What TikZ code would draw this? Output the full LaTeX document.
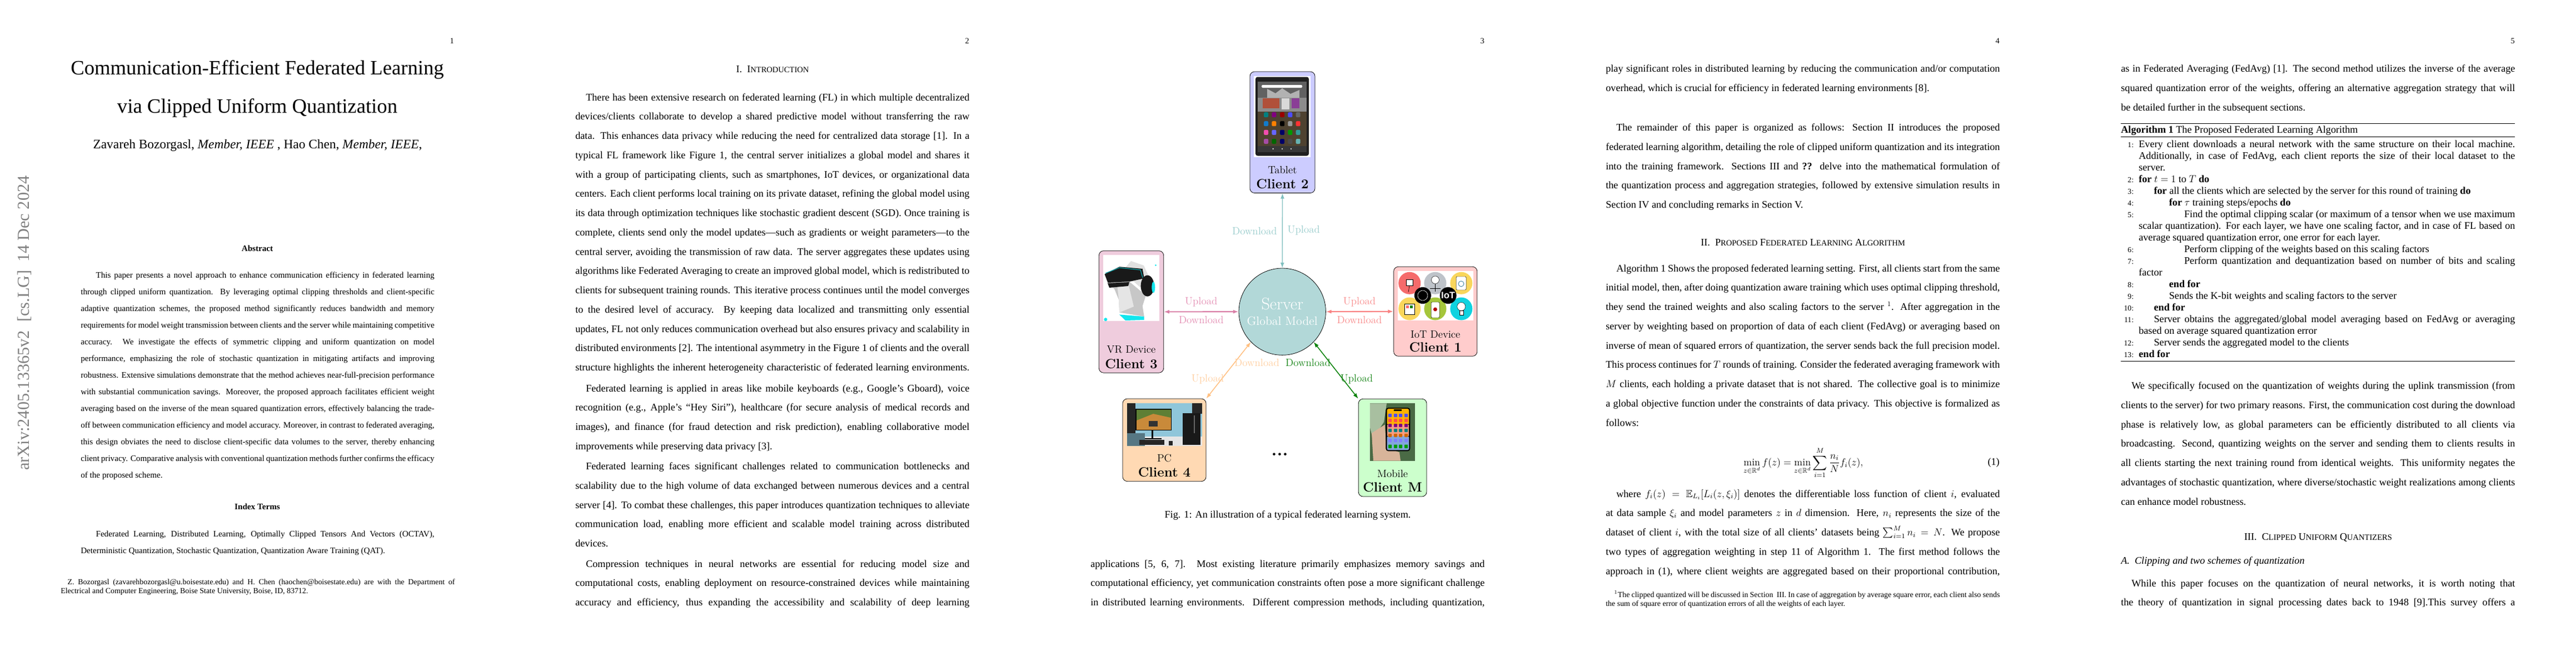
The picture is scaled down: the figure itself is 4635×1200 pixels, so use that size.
\documentclass[tikz,border=0pt,12pt]{standalone}
\usepackage{amsmath,amssymb}
\usepackage{fontspec}
\usetikzlibrary{arrows.meta,calc}
\newfontfamily\tm[Ligatures=TeX]{Liberation Serif}
\newfontfamily\hv{Liberation Sans}
\newlength\linew
\newcommand\JL[1]{\hbox to \linew{#1}}
\newcommand\LL[1]{\hbox{#1}}
\newcommand\SC[1]{{\fontsize{9.6}{12}\selectfont #1}}
\newcommand\AL[2]{\hbox to 468pt{\hbox to 15pt{\hss\fontsize{9}{11}\selectfont #1}\hskip 6.1pt #2}}
\newcommand\ind[1]{\hskip #1pt}
\newcommand\bodyfont{\tm\fontsize{12}{22.94}\selectfont\setlength\linew{468pt}}
\newcommand\absfont{\tm\fontsize{10}{19.8}\selectfont\setlength\linew{420pt}}
\newcommand\fnfont{\tm\fontsize{9.2}{10.6}\selectfont\setlength\linew{468pt}}
\definecolor{cTab}{HTML}{CCCCFF}
\definecolor{cVR}{HTML}{EFCCDD}
\definecolor{cIoT}{HTML}{FFCCCC}
\definecolor{cPC}{HTML}{FFD9B3}
\definecolor{cMob}{HTML}{CCFFCC}
\definecolor{cSrv}{HTML}{B2D8D8}
\definecolor{aTeal}{HTML}{7FBFBF}
\definecolor{aPink}{HTML}{D97FA6}
\definecolor{aRed}{HTML}{F98080}
\definecolor{aOr}{HTML}{FFBF80}
\definecolor{aGr}{HTML}{008000}
\definecolor{lTeal}{HTML}{99CCCC}
\definecolor{lPink}{HTML}{E48FB4}
\definecolor{lRed}{HTML}{F98C8C}
\definecolor{lOr}{HTML}{FFCFA0}
\definecolor{lGr}{HTML}{1A861A}
\definecolor{aqua}{HTML}{12E6EE}
\tikzset{
  x=0.66pt,y=-0.66pt,
  body/.style={anchor=base west,inner sep=0pt,font=\bodyfont},
  absbody/.style={anchor=base west,inner sep=0pt,font=\absfont},
  fnbody/.style={anchor=base west,inner sep=0pt,font=\fnfont},
  pagenum/.style={anchor=base east,inner sep=0pt,font=\tm\fontsize{9.5}{11}\selectfont},
  heading/.style={anchor=base,inner sep=0pt,font=\tm\fontsize{12}{14}\selectfont},
  devbox/.style={draw=black,line width=0.5pt,rounded corners=5.5pt,inner sep=0pt},
  devname/.style={inner sep=0pt,font=\fontsize{12.5}{14}\selectfont},
  cname/.style={anchor=base,inner sep=0pt,font=\fontsize{15.9}{18}\selectfont\bfseries},
  lbl/.style={inner sep=0pt,font=\fontsize{12.5}{14}\selectfont},
  dbl/.style={{Latex[length=6.5pt,width=4.6pt]}-{Latex[length=6.5pt,width=4.6pt]}},
}
\begin{document}
\begin{tikzpicture}
\useasboundingbox (0,0) rectangle (4635,1200);
\fill[white] (0,0) rectangle (4635,1200);
%% ---------- page 1
\node[pagenum] (pn1) at (817,78) {1};
\node[inner sep=0pt,anchor=base,font=\tm\fontsize{24.2}{28}\selectfont] (title1) at (463,134) {Communication-Efficient Federated Learning};
\node[inner sep=0pt,anchor=base,font=\tm\fontsize{24.2}{28}\selectfont] (title2) at (463,203.6) {via Clipped Uniform Quantization};
\node[inner sep=0pt,anchor=base,font=\tm\fontsize{15.4}{18}\selectfont] (auth) at (463.5,267) {Zavareh Bozorgasl, \emph{Member, IEEE} , Hao Chen, \emph{Member, IEEE},};
\node[inner sep=0pt,rotate=90,anchor=base west,text=black!50,font=\tm\fontsize{20}{24}\selectfont] (stamp) at (52,847) {arXiv:2405.13365v2\ \ [cs.LG]\ \ 14 Dec 2024};
\node[inner sep=0pt,anchor=base,font=\tm\fontsize{10}{12}\selectfont\bfseries] (abshead) at (463,452) {Abstract};
\node[absbody] (abs) at (145,500) {\vtop{
\JL{\ind{18}This paper presents a novel approach to enhance communication efficiency in federated learning}
\JL{through clipped uniform quantization. By leveraging optimal clipping thresholds and client-specific}
\JL{adaptive quantization schemes, the proposed method significantly reduces bandwidth and memory}
\JL{requirements for model weight transmission between clients and the server while maintaining competitive}
\JL{accuracy. We investigate the effects of symmetric clipping and uniform quantization on model}
\JL{performance, emphasizing the role of stochastic quantization in mitigating artifacts and improving}
\JL{robustness. Extensive simulations demonstrate that the method achieves near-full-precision performance}
\JL{with substantial communication savings. Moreover, the proposed approach facilitates efficient weight}
\JL{averaging based on the inverse of the mean squared quantization errors, effectively balancing the trade-}
\JL{off between communication efficiency and model accuracy. Moreover, in contrast to federated averaging,}
\JL{this design obviates the need to disclose client-specific data volumes to the server, thereby enhancing}
\JL{client privacy. Comparative analysis with conventional quantization methods further confirms the efficacy}
\LL{of the proposed scheme.}}};
\node[inner sep=0pt,anchor=base,font=\tm\fontsize{10}{12}\selectfont\bfseries] (idxhead) at (463,917.6) {Index Terms};
\node[absbody] (idx) at (145,966) {\vtop{
\JL{\ind{18}Federated Learning, Distributed Learning, Optimally Clipped Tensors And Vectors (OCTAV),}
\LL{Deterministic Quantization, Stochastic Quantization, Quantization Aware Training (QAT).}}};
\node[fnbody] (fn1) at (109,1052) {\vtop{
\JL{\ind{8.2}Z. Bozorgasl (zavarehbozorgasl@u.boisestate.edu) and H. Chen (haochen@boisestate.edu) are with the Department of}
\LL{Electrical and Computer Engineering, Boise State University, Boise, ID, 83712.}}};
%% ---------- page 2
\node[pagenum] (pn2) at (1744,78) {2};
\node[heading] (sec1) at (1390,130) {I.\ \ I\SC{NTRODUCTION}};
\node[body] (p2a) at (1035,181) {\vtop{
\JL{\ind{12.5}There has been extensive research on federated learning (FL) in which multiple decentralized}
\JL{devices/clients collaborate to develop a shared predictive model without transferring the raw}
\JL{data. This enhances data privacy while reducing the need for centralized data storage [1]. In a}
\JL{typical FL framework like Figure 1, the central server initializes a global model and shares it}
\JL{with a group of participating clients, such as smartphones, IoT devices, or organizational data}
\JL{centers. Each client performs local training on its private dataset, refining the global model using}
\JL{its data through optimization techniques like stochastic gradient descent (SGD). Once training is}
\JL{complete, clients send only the model updates---such as gradients or weight parameters---to the}
\JL{central server, avoiding the transmission of raw data. The server aggregates these updates using}
\JL{algorithms like Federated Averaging to create an improved global model, which is redistributed to}
\JL{clients for subsequent training rounds. This iterative process continues until the model converges}
\JL{to the desired level of accuracy. By keeping data localized and transmitting only essential}
\JL{updates, FL not only reduces communication overhead but also ensures privacy and scalability in}
\JL{distributed environments [2]. The intentional asymmetry in the Figure 1 of clients and the overall}
\JL{structure highlights the inherent heterogeneity characteristic of federated learning environments.}}};
\node[body] (p2b) at (1035,705) {\vtop{
\JL{\ind{12.5}Federated learning is applied in areas like mobile keyboards (e.g., Google’s Gboard), voice}
\JL{recognition (e.g., Apple’s “Hey Siri”), healthcare (for secure analysis of medical records and}
\JL{images), and finance (for fraud detection and risk prediction), enabling collaborative model}
\LL{improvements while preserving data privacy [3].}}};
\node[body] (p2c) at (1035,845.5) {\vtop{
\JL{\ind{12.5}Federated learning faces significant challenges related to communication bottlenecks and}
\JL{scalability due to the high volume of data exchanged between numerous devices and a central}
\JL{server [4]. To combat these challenges, this paper introduces quantization techniques to alleviate}
\JL{communication load, enabling more efficient and scalable model training across distributed}
\LL{devices.}}};
\node[body] (p2d) at (1035,1021) {\vtop{
\JL{\ind{12.5}Compression techniques in neural networks are essential for reducing model size and}
\JL{computational costs, enabling deployment on resource-constrained devices while maintaining}
\JL{accuracy and efficiency, thus expanding the accessibility and scalability of deep learning}}};
%% ---------- page 3 figure
\node[pagenum] (pn3) at (2671,78) {3};
\node[devbox,fill=cTab,minimum width=77.2pt,minimum height=144.2pt] (c2) at (2307.5,238.25) {};
\node[devbox,fill=cVR,minimum width=76.8pt,minimum height=144.9pt] (c3) at (2035.5,561.4) {};
\node[devbox,fill=cIoT,minimum width=99.1pt,minimum height=106.3pt] (c1) at (2582.75,560.8) {};
\node[devbox,fill=cPC,minimum width=99pt,minimum height=98.1pt] (c4) at (2095,792.35) {};
\node[devbox,fill=cMob,minimum width=81pt,minimum height=116pt] (cM) at (2505.6,806.15) {};
\node[circle,draw=black,line width=0.5pt,fill=cSrv,minimum size=103.2pt,inner sep=0pt] (srv) at (2307.2,561.2) {};
\node[inner sep=0pt,text=white,font=\fontsize{20}{24}\selectfont] (srvt) at (2307.2,547) {Server};
\node[inner sep=0pt,text=white,font=\fontsize{14.4}{17}\selectfont] (gm) at (2307.2,578) {Global Model};
%% tablet image
\fill[white] (2256.2,137) rectangle (2358,283);
\fill[black!88,rounded corners=2.5pt] (2259,138.5) rectangle (2355,280.5);
\fill[black!62] (2263,147) rectangle (2351,176);
\fill[black!45] (2263,176) rectangle (2351,201);
\fill[black!30] (2280,160) -- (2295,168) -- (2307,159) -- (2322,169) -- (2338,162) -- (2338,176) -- (2280,176) -- cycle;
\definecolor{bn}{HTML}{4E4230}
\fill[bn] (2263,201) rectangle (2351,263);
\fill[black!78] (2263,263) rectangle (2351,274);
\fill[white,rounded corners=1pt] (2270,153) rectangle (2343,158);
\definecolor{bk1}{HTML}{B0503A}\definecolor{bk3}{HTML}{8A3E96}
\fill[bk1] (2272,177) rectangle (2302,195);
\fill[white!85!black] (2306,177) rectangle (2320,197);
\fill[bk3] (2324,177) rectangle (2338,195);
\foreach \x/\y/\c in {
 2278/206.7/teal,2292.4/206.7/violet,2307.2/206.7/red!60!black,2321.4/206.7/blue!70,2335.7/206.7/black!60,
 2278/222.7/cyan!60!blue,2292.4/222.7/orange,2307.2/222.7/black,2321.4/222.7/black!40,2335.7/222.7/red!80,
 2278/238.4/magenta!70,2292.4/238.4/blue!60,2307.2/238.4/blue!40!black,2321.4/238.4/green!60!black,2335.7/238.4/teal!80,
 2278/254.5/violet!70,2292.4/254.5/green!40!black,2307.2/254.5/blue!40!black,2321.4/254.5/black!70,2335.7/254.5/teal!60}
 {\fill[fill=\c,rounded corners=1pt] (\x-4,\y-4.5) rectangle (\x+4,\y+4.5);}
\foreach \x in {2290.6,2307,2323} {\fill[white] (\x,268) circle (0.8pt);}
%% VR image
\fill[white] (1984.6,459) rectangle (2086,578);
\fill[black!22] (1993.4,509) -- (2032,507) -- (2061.7,532) -- (2055.7,551) -- (2058.7,570) -- (2014.2,562.6) -- (2013,539.6) -- (2005.3,520.7) -- cycle;
\fill[black!10] (2010,512) -- (2030,510) -- (2040,552) -- (2014.2,562.6) -- (2013,539.6) -- cycle;
\fill[black!12] (2005,505) -- (2035,470) -- (2058,478) -- (2068,500) -- (2060,525) -- (2040,507) -- cycle;
\fill[black!90] (1987.5,493.7) -- (2014.2,480.3) -- (2055.7,484) -- (2058.7,501.3) -- (2032,507) -- (1993.4,509) -- cycle;
\draw[aqua!70!black,line width=0.8pt] (1989,492) -- (2014.2,482) -- (2052,486) -- (2056,500);
\fill[black!90] (1993,510) -- (2032,508) -- (2030,515) -- (1996,518) -- cycle;
\fill[black!90] (2064.6,514.7) ellipse (12 and 19);
\fill[aqua] (2075.3,517.4) ellipse (3 and 10);
\fill[aqua] (2014,566.4) -- (2058.7,570) -- (2058.7,576) -- (2025,577) -- cycle;
\fill[aqua] (1989.3,575.2) circle (3);
\fill[aqua] (2079.5,477.6) circle (1.5);
%% IoT image
\fill[white] (2514.8,488.3) rectangle (2650.6,577);
\definecolor{iR}{HTML}{F56B6B}\definecolor{iG}{HTML}{BEC3C9}\definecolor{iY}{HTML}{F9D65C}
\definecolor{iL}{HTML}{A5C63B}\definecolor{iC}{HTML}{0FD3E0}
\fill[iR] (2536.2,509.8) ellipse (20 and 20);
\fill[iG] (2582.4,509.8) ellipse (20 and 20);
\fill[iY] (2629.3,509.8) ellipse (20 and 20);
\fill[iY] (2536.2,556) ellipse (20 and 20.5);
\fill[iL] (2582.4,556) ellipse (20 and 20.5);
\fill[iC] (2629.3,556) ellipse (20 and 20.5);
\fill[white,draw=black,line width=0.3pt] (2530,503) rectangle (2542,514);
\draw[black,line width=0.4pt] (2536,514) -- (2534,526);
\fill[white,draw=black,line width=0.3pt] (2582.4,504) circle (7);
\draw[black,line width=0.4pt] (2582.4,511) -- (2582.4,525) (2573,519) -- (2592,519);
\fill[white,draw=black,line width=0.3pt,rounded corners=1pt] (2620,498) rectangle (2638,522);
\draw[cyan!60!black,line width=0.6pt] (2629,511) circle (5);
\fill[white,draw=black,line width=0.3pt] (2527,547) rectangle (2545,566);
\fill[red!60] (2530,550) rectangle (2535,555);\fill[green!50!black] (2537,550) rectangle (2542,555);
\fill[white,draw=black,line width=0.3pt,rounded corners=1pt] (2575,544) rectangle (2590,572);
\fill[red!70!black] (2582.4,557) circle (3.5);
\fill[white,draw=black,line width=0.3pt] (2629.3,552) circle (7.5);
\fill[white,draw=black,line width=0.3pt] (2626,559) rectangle (2633,567);
\fill[black] (2559.9,532) circle (15);
\fill[black] (2605.6,532) circle (15);
\draw[white,line width=0.4pt] (2559.9,532) circle (9);
\node[inner sep=0pt,text=white,font=\hv\fontsize{11}{13}\selectfont\bfseries] (iott) at (2605.6,532) {IoT};
%% PC image
\definecolor{pcB}{HTML}{8FC6DA}
\fill[pcB] (2027.8,726.3) rectangle (2163,788);
\fill[black!85] (2027.8,726.3) rectangle (2043,780);
\fill[black!85] (2145,726.3) rectangle (2163,745);
\fill[black!10] (2027.8,786) rectangle (2163,802.8);
\fill[pcB!60!black] (2027.8,780) rectangle (2060,802.8);
\fill[black] (2043.3,735.9) rectangle (2108,775.3);
\definecolor{gm1}{HTML}{C98A3A}\definecolor{gm2}{HTML}{5E7F35}
\fill[gm1] (2045,737.5) rectangle (2106.5,773.5);
\fill[gm2] (2045,737.5) -- (2106.5,737.5) -- (2106.5,752) -- (2075,745) -- (2045,757) -- cycle;
\fill[black!80] (2067,758) rectangle (2083,768);
\fill[black] (2072,775.3) rectangle (2075,790);
\fill[black] (2060,789) rectangle (2090,791);
\fill[black!90] (2128,743.5) rectangle (2159.5,801);
\fill[black!60] (2148,748) rectangle (2150,780);
\fill[black!85] (2050,792) rectangle (2095,801);
\fill[black!85] (2103,794) rectangle (2110,802);
%% Mobile image
\definecolor{leaf}{HTML}{4A6A45}\definecolor{leaf2}{HTML}{A8BFA0}\definecolor{skin}{HTML}{D8B49A}
\fill[leaf] (2465,726.3) rectangle (2546.2,829.6);
\fill[leaf2] (2465,726.3) -- (2495,726.3) -- (2490,760) -- (2470,790) -- (2465,770) -- cycle;
\fill[skin] (2471,829.6) -- (2468,779.9) -- (2491.7,764.6) -- (2494.6,806.7) -- (2518,814.3) -- (2520,829.6) -- cycle;
\fill[black,rounded corners=3pt] (2493.4,734) rectangle (2537.3,812.4);
\fill[orange!60!yellow,rounded corners=2pt] (2495.5,736) rectangle (2535.3,765);
\fill[magenta!30!orange!60] (2495.5,765) rectangle (2535.3,785);
\fill[cyan!50!blue!50,rounded corners=2pt] (2495.5,785) rectangle (2535.3,810.4);
\fill[black] (2508,737) rectangle (2522,740);
\foreach \y/\c in {748/blue!70,757/red!70,766/violet,775/teal,784/orange!80!black,793/blue!50}{
 \foreach \x in {2501,2511,2520,2530}{\fill[fill=\c,rounded corners=0.5pt] (\x-3,\y-3) rectangle (\x+3,\y+3);}}
\foreach \x in {2501,2511,2520,2530}{\fill[green!60!black,rounded corners=0.5pt] (\x-3,800.5) rectangle (\x+3,807);}
%% names
\node[devname] (n2) at (2307.5,306) {Tablet};
\node[cname] (k2) at (2307.5,339.5) {Client 2};
\node[devname] (n3) at (2035.5,629.5) {VR Device};
\node[cname] (k3) at (2035.5,663) {Client 3};
\node[devname] (n1) at (2582.75,602) {IoT Device};
\node[cname] (k1) at (2582.75,633.7) {Client 1};
\node[devname] (n4) at (2095,825) {PC};
\node[cname] (k4) at (2095,858.3) {Client 4};
\node[devname] (nM) at (2505.6,852.6) {Mobile};
\node[cname] (kM) at (2505.6,885.5) {Client M};
\node[inner sep=0pt,font=\fontsize{21}{24}\selectfont\bfseries] (dots) at (2302.5,818.5) {...};
%% connectors
\draw[dbl,aTeal,line width=0.9pt] (c2.south) -- (srv.north);
\draw[dbl,aPink,line width=1.4pt] (c3.east) -- (srv.west);
\draw[dbl,aRed,line width=1.4pt] (c1.west) -- (srv.east);
\draw[dbl,aOr,line width=1pt] (c4.north east) -- (srv.224);
\draw[dbl,aGr,line width=1pt] (cM.north west) -- (srv.-44.6);
%% labels
\node[lbl,text=lTeal] (l2d) at (2257.4,415.6) {Download};
\node[lbl,text=lTeal] (l2u) at (2345.8,414.5) {Upload};
\node[lbl,text=lPink] (l3u) at (2161.3,543.8) {Upload};
\node[lbl,text=lPink] (l3d) at (2161.3,576.3) {Download};
\node[lbl,text=lRed] (l1u) at (2446,543.8) {Upload};
\node[lbl,text=lRed] (l1d) at (2446,576.3) {Download};
\node[lbl,text=lOr] (l4u) at (2173,682.3) {Upload};
\node[lbl,text=lOr] (l4d) at (2261.5,653.2) {Download};
\node[lbl,text=lGr] (lMd) at (2353.5,653.2) {Download};
\node[lbl,text=lGr] (lMu) at (2441,682.3) {Upload};
\node[inner sep=0pt,anchor=base,font=\tm\fontsize{12}{14}\selectfont] (cap) at (2317,932) {Fig. 1: An illustration of a typical federated learning system.};
\node[body] (p3a) at (1962,1021) {\vtop{
\JL{applications [5, 6, 7]. Most existing literature primarily emphasizes memory savings and}
\JL{computational efficiency, yet communication constraints often pose a more significant challenge}
\JL{in distributed learning environments. Different compression methods, including quantization,}}};
%% ---------- page 4
\node[pagenum] (pn4) at (3598,78) {4};
\node[body] (p4a) at (2889,129.5) {\vtop{
\JL{play significant roles in distributed learning by reducing the communication and/or computation}
\LL{overhead, which is crucial for efficiency in federated learning environments [8].}}};
\node[body] (p4b) at (2889,235.5) {\vtop{
\JL{\ind{12.5}The remainder of this paper is organized as follows: Section II introduces the proposed}
\JL{federated learning algorithm, detailing the role of clipped uniform quantization and its integration}
\JL{into the training framework. Sections III and \textbf{??} delve into the mathematical formulation of}
\JL{the quantization process and aggregation strategies, followed by extensive simulation results in}
\LL{Section IV and concluding remarks in Section V.}}};
\node[heading] (sec2) at (3244,442) {II.\ \ P\SC{ROPOSED} F\SC{EDERATED} L\SC{EARNING} A\SC{LGORITHM}};
\node[body] (p4c) at (2889,489) {\vtop{
\JL{\ind{12.5}Algorithm 1 Shows the proposed federated learning setting. First, all clients start from the same}
\JL{initial model, then, after doing quantization aware training which uses optimal clipping threshold,}
\JL{they send the trained weights and also scaling factors to the server $^{1}$. After aggregation in the}
\JL{server by weighting based on proportion of data of each client (FedAvg) or averaging based on}
\JL{inverse of mean of squared errors of quantization, the server sends back the full precision model.}
\JL{This process continues for $T$ rounds of training. Consider the federated averaging framework with}
\JL{$M$ clients, each holding a private dataset that is not shared. The collective goal is to minimize}
\JL{a global objective function under the constraints of data privacy. This objective is formalized as}
\LL{follows:}}};
\node[inner sep=0pt,font=\fontsize{12}{14}\selectfont] (eq) at (3244.7,833.4) {$\displaystyle\min_{z\in\mathbb{R}^d} f(z)=\min_{z\in\mathbb{R}^d}\sum_{i=1}^{M}\frac{n_i}{N}f_i(z),$};
\node[inner sep=0pt,anchor=east,font=\tm\fontsize{12}{14}\selectfont] (eqn) at (3598,833.4) {(1)};
\node[body] (p4d) at (2889,895) {\vtop{
\JL{\ind{12.5}where $f_i(z)=\mathbb{E}_{L_i}[L_i(z,\xi_i)]$ denotes the differentiable loss function of client $i$, evaluated}
\JL{at data sample $\xi_i$ and model parameters $z$ in $d$ dimension. Here, $n_i$ represents the size of the}
\JL{dataset of client $i$, with the total size of all clients’ datasets being $\sum_{i=1}^{M} n_i = N$. We propose}
\JL{two types of aggregation weighting in step 11 of Algorithm 1. The first method follows the}
\JL{approach in (1), where client weights are aggregated based on their proportional contribution,}}};
\node[fnbody] (fn4) at (2889,1075) {\vtop{
\JL{\ind{10}$^{1}$The clipped quantized will be discussed in Section\ \ III. In case of aggregation by average square error, each client also sends}
\LL{the sum of square error of quantization errors of all the weights of each layer.}}};
%% ---------- page 5
\node[pagenum] (pn5) at (4525,78) {5};
\node[body] (p5a) at (3816,129.5) {\vtop{
\JL{as in Federated Averaging (FedAvg) [1]. The second method utilizes the inverse of the average}
\JL{squared quantization error of the weights, offering an alternative aggregation strategy that will}
\LL{be detailed further in the subsequent sections.}}};
\coordinate (r1a) at (3816,222.3); \coordinate (r1b) at (4525,222.3);
\coordinate (r2a) at (3816,246); \coordinate (r2b) at (4525,246);
\coordinate (r3a) at (3816,650.5); \coordinate (r3b) at (4525,650.5);
\draw[black,line width=0.8pt] (r1a) -- (r1b);
\draw[black,line width=0.4pt] (r2a) -- (r2b);
\draw[black,line width=0.8pt] (r3a) -- (r3b);
\node[body] (algcap) at (3816,239) {\textbf{Algorithm 1} The Proposed Federated Learning Algorithm};
\node[anchor=base west,inner sep=0pt,font=\tm\fontsize{12}{13.86}\selectfont] (alg) at (3816,265) {\vtop{
\AL{1:}{Every client downloads a neural network with the same structure on their local machine.}
\AL{}{Additionally, in case of FedAvg, each client reports the size of their local dataset to the}
\AL{}{server.\hfil}
\AL{2:}{\textbf{for} $t=1$ to $T$ \textbf{do}\hfil}
\AL{3:}{\ind{18}\textbf{for} all the clients which are selected by the server for this round of training \textbf{do}\hfil}
\AL{4:}{\ind{36}\textbf{for} $\tau$ training steps/epochs \textbf{do}\hfil}
\AL{5:}{\ind{54}Find the optimal clipping scalar (or maximum of a tensor when we use maximum}
\AL{}{scalar quantization). For each layer, we have one scaling factor, and in case of FL based on}
\AL{}{average squared quantization error, one error for each layer.\hfil}
\AL{6:}{\ind{54}Perform clipping of the weights based on this scaling factors\hfil}
\AL{7:}{\ind{54}Perform quantization and dequantization based on number of bits and scaling}
\AL{}{factor\hfil}
\AL{8:}{\ind{36}\textbf{end for}\hfil}
\AL{9:}{\ind{36}Sends the K-bit weights and scaling factors to the server\hfil}
\AL{10:}{\ind{18}\textbf{end for}\hfil}
\AL{11:}{\ind{18}Server obtains the aggregated/global model averaging based on FedAvg or averaging}
\AL{}{based on average squared quantization error\hfil}
\AL{12:}{\ind{18}Server sends the aggregated model to the clients\hfil}
\AL{13:}{\textbf{end for}\hfil}}};
\node[body] (p5b) at (3816,700.5) {\vtop{
\JL{\ind{12.5}We specifically focused on the quantization of weights during the uplink transmission (from}
\JL{clients to the server) for two primary reasons. First, the communication cost during the download}
\JL{phase is relatively low, as global parameters can be efficiently distributed to all clients via}
\JL{broadcasting. Second, quantizing weights on the server and sending them to clients results in}
\JL{all clients starting the next training round from identical weights. This uniformity negates the}
\JL{advantages of stochastic quantization, where diverse/stochastic weight realizations among clients}
\LL{can enhance model robustness.}}};
\node[heading] (sec3) at (4171,972) {III.\ \ C\SC{LIPPED} U\SC{NIFORM} Q\SC{UANTIZERS}};
\node[body] (sub) at (3816,1015) {\emph{A.\ \ Clipping and two schemes of quantization}};
\node[body] (p5c) at (3816,1056) {\vtop{
\JL{\ind{12.5}While this paper focuses on the quantization of neural networks, it is worth noting that}
\JL{the theory of quantization in signal processing dates back to 1948 [9].This survey offers a}}};
\end{tikzpicture}
\end{document}
